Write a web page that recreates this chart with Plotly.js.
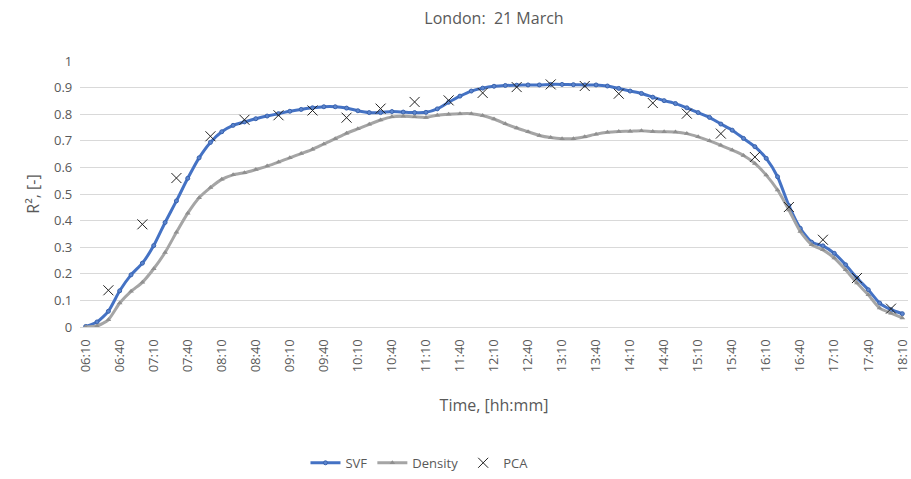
<!DOCTYPE html>
<html>
<head>
<meta charset="utf-8">
<script src="https://cdn.plot.ly/plotly-3.0.1.min.js"></script>
<style>html,body{margin:0;padding:0;background:#fff;}#chart{width:911px;height:479px;}</style>
</head>
<body>
<div id="chart"></div>
<script>
// Time categories every 10 minutes, 06:10 .. 18:10
const times = [];
for (let m = 6*60+10; m <= 18*60+10; m += 10) {
  const h = Math.floor(m/60), mm = m%60;
  times.push(String(h).padStart(2,'0') + ':' + String(mm).padStart(2,'0'));
}
const tickLabels = ["06:10","06:40","07:10","07:40","08:10","08:40","09:10","09:40","10:10","10:40","11:10","11:40","12:10","12:40","13:10","13:40","14:10","14:40","15:10","15:40","16:10","16:40","17:10","17:40","18:10"];

const svf = [0.002,0.019,0.059,0.136,0.196,0.240,0.306,0.393,0.474,0.559,0.636,0.694,0.734,0.758,
  0.771,0.783,0.793,0.802,0.811,0.818,0.824,0.828,0.828,0.823,0.813,0.806,0.806,
  0.810,0.808,0.806,0.807,0.820,0.845,0.868,0.887,0.898,0.905,0.908,0.909,0.910,0.910,
  0.912,0.912,0.911,0.910,0.910,0.906,0.897,0.887,0.878,0.864,0.851,0.840,0.824,0.806,0.788,0.763,
  0.740,0.709,0.678,0.634,0.565,0.456,0.371,0.319,0.305,0.277,0.234,0.184,0.140,0.090,0.065,0.050];

const density = [0.000,0.004,0.027,0.090,0.134,0.168,0.219,0.280,0.356,0.428,0.486,0.524,0.555,0.572,
  0.580,0.592,0.605,0.620,0.636,0.652,0.668,0.688,0.708,0.728,0.745,0.762,0.778,
  0.790,0.792,0.790,0.788,0.796,0.800,0.802,0.802,0.795,0.782,0.764,0.748,0.734,0.720,
  0.712,0.708,0.708,0.715,0.725,0.732,0.735,0.736,0.738,0.735,0.734,0.733,0.727,0.715,0.700,0.683,
  0.665,0.645,0.615,0.571,0.515,0.440,0.359,0.309,0.290,0.259,0.215,0.165,0.121,0.071,0.052,0.034];

const pcaTimes = ["06:30","07:00","07:30","08:00","08:30","09:00","09:30","10:00","10:30","11:00","11:30","12:00",
  "12:30","13:00","13:30","14:00","14:30","15:00","15:30","16:00","16:30","17:00","17:30","18:00"];
const pca = [0.138,0.386,0.560,0.717,0.779,0.796,0.814,0.787,0.821,0.846,0.852,0.880,
  0.902,0.912,0.906,0.877,0.842,0.802,0.727,0.639,0.451,0.328,0.184,0.069];

const font = {family: "Open Sans, Noto Sans, sans-serif", color: "#595959"};

const traces = [
  {x: times, y: svf, name: "SVF", type: "scatter", mode: "lines+markers",
   line: {color: "#4472C4", width: 3, shape: "spline", smoothing: 0.6},
   marker: {symbol: "circle", size: 4, color: "#5b85cf", line: {color: "#3a63ad", width: 1}}},
  {x: times, y: density, name: "Density", type: "scatter", mode: "lines+markers",
   line: {color: "#A5A5A5", width: 3, shape: "spline", smoothing: 0.6},
   marker: {symbol: "triangle-up", size: 5, color: "#8f8f8f"}},
  {x: pcaTimes, y: pca, name: "PCA", type: "scatter", mode: "markers",
   marker: {symbol: "x-thin", size: 10, color: "#000", line: {color: "#222", width: 1}}}
];

const layout = {
  width: 911, height: 479,
  margin: {l: 80, r: 3, t: 61, b: 151},
  paper_bgcolor: "#fff", plot_bgcolor: "#fff",
  font: Object.assign({size: 13}, font),
  title: {text: "London:  21 March", x: 0.5, xref: "paper", y: 0.962, yanchor: "middle",
          font: Object.assign({size: 16}, font)},
  xaxis: {type: "category", categoryorder: "array", categoryarray: times,
          range: [-0.5, 72.5], tickmode: "array", tickvals: tickLabels, ticktext: tickLabels,
          tickangle: -90, showgrid: false, showline: true, linecolor: "#d9d9d9", linewidth: 1,
          ticks: "outside", ticklen: 6, tickcolor: "rgba(0,0,0,0)",
          tickfont: Object.assign({size: 13}, font), zeroline: false,
          title: {text: "Time, [hh:mm]", font: Object.assign({size: 16}, font), standoff: 28}},
  yaxis: {range: [0, 1], dtick: 0.1, tick0: 0, showgrid: true, gridcolor: "#d9d9d9", gridwidth: 1,
          zeroline: false, showline: false, ticks: "", tickfont: Object.assign({size: 13}, font),
          ticksuffix: "  ",
          title: {text: "R², [-]", font: Object.assign({size: 16}, font), standoff: 10}},
  showlegend: true,
  legend: {orientation: "h", x: 0.41, xanchor: "center", y: -0.505, yanchor: "middle",
           font: Object.assign({size: 13}, font), bgcolor: "rgba(0,0,0,0)"},
  hovermode: false
};

Plotly.newPlot("chart", traces, layout, {displayModeBar: false, staticPlot: true});
</script>
</body>
</html>
